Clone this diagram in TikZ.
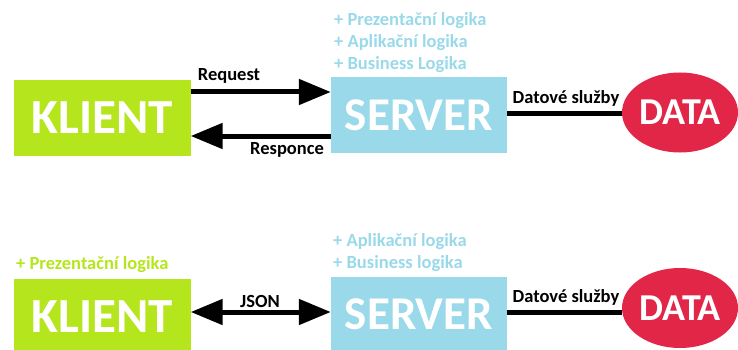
\documentclass[tikz,border=0pt]{standalone}
\usepackage{fontspec}
\setmainfont{Carlito}
\usetikzlibrary{arrows.meta,shapes.geometric}
\definecolor{klientgreen}{RGB}{181,230,29}
\definecolor{serverblue}{RGB}{153,217,234}
\definecolor{datared}{RGB}{226,38,72}

\begin{document}
\begin{tikzpicture}[x=1pt,y=-1pt]
\tikzstyle{klient}=[rectangle, fill=klientgreen, text=white, minimum width=177pt, minimum height=76pt, inner sep=0pt, font=\bfseries\fontsize{49}{52}\selectfont]
\tikzstyle{server}=[rectangle, fill=serverblue, text=white, minimum width=176pt, minimum height=75pt, inner sep=0pt, font=\bfseries\fontsize{47}{50}\selectfont]
\tikzstyle{data}=[ellipse, fill=datared, text=white, minimum width=116pt, minimum height=80pt, inner sep=0pt, font=\bfseries\fontsize{38}{40}\selectfont]
\tikzstyle{label}=[inner sep=0pt, font=\bfseries\fontsize{18.5}{20}\selectfont]
\tikzstyle{note}=[label, anchor=west]
\tikzstyle{flow}=[line width=5pt, -{Triangle[length=32pt,width=25pt]}]
\tikzstyle{flowboth}=[line width=5pt, {Triangle[length=32pt,width=25pt]}-{Triangle[length=32pt,width=25pt]}]

\useasboundingbox (0,0) rectangle (738,350);
\clip (0,0) rectangle (738,350);

% Top row
\node at (102,118) [klient] (klient_1) {KLIENT};
\node at (419,115) [server] (server_1) {SERVER};
\node at (680,112.5) [data] (data_1) {DATA};

\node at (334,21) [note, text=serverblue] (note_1a) {+ Prezentační logika};
\node at (334,43) [note, text=serverblue] (note_1b) {+ Aplikační logika};
\node at (334,65) [note, text=serverblue] (note_1c) {+ Business Logika};

\draw [flow] (klient_1.east |- 0,92) to (server_1.west |- 0,92);
\draw [flow] (server_1.west |- 0,136) to (klient_1.east |- 0,136);
\draw [line width=5pt] (server_1.east |- 0,114) to (data_1.west |- 0,114);

\node at (229,76) [label] (request) {Request};
\node at (287,150) [label] (responce) {Responce};
\node at (566,98) [label] (sluzby_1) {Datové služby};

% Bottom row
\node at (102,317) [klient] (klient_2) {KLIENT};
\node at (419,314) [server] (server_2) {SERVER};
\node at (680,308) [data] (data_2) {DATA};

\node at (16,265) [note, text=klientgreen] (note_2a) {+ Prezentační logika};
\node at (333,242) [note, text=serverblue] (note_2b) {+ Aplikační logika};
\node at (333,264) [note, text=serverblue] (note_2c) {+ Business logika};

\draw [flowboth] (klient_2.east |- 0,312) to (server_2.west |- 0,312);
\draw [line width=5pt] (server_2.east |- 0,312) to (data_2.west |- 0,312);

\node at (260,301) [label] (json) {JSON};
\node at (566,297) [label] (sluzby_2) {Datové služby};
\end{tikzpicture}
\end{document}
